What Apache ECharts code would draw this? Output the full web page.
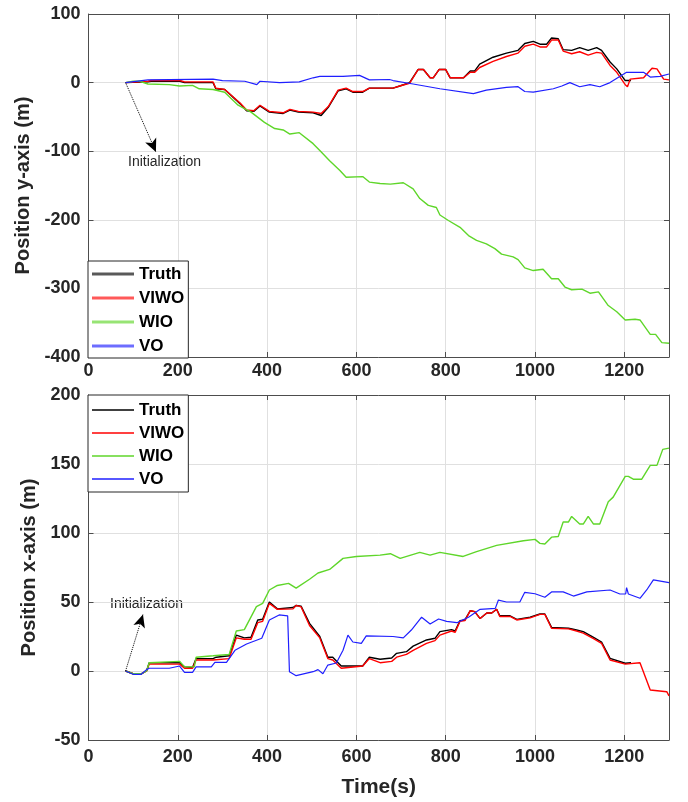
<!DOCTYPE html>
<html>
<head>
<meta charset="utf-8">
<script src="https://cdn.jsdelivr.net/npm/echarts@6.0.0/dist/echarts.min.js"></script>
<style>
	html, body { margin: 0; padding: 0; background: #fff; }
	#main { width: 688px; height: 802px; }
</style>
</head>
<body>
<div id="main"></div>
<script>
// names of the four estimates
let names = ['Truth', 'VIWO', 'WIO', 'VO'];
let colors = ['#000000', '#ff0000', '#5fd62a', '#1f1fff'];

// x tick labels (time, s)
let timeTicks = [0, 200, 400, 600, 800, 1000, 1200];

// position y-axis (m), [time, value]
let truthY = [[83,0],[133,1],[140,2],[205,2],[215,0],[279,0],[285,-9],[305,-10],[340,-31],[354,-41],[370,-42],[384,-34],[405,-43],[436,-45],[451,-40],[470,-43],[503,-44],[521,-48],[537,-36],[559,-12],[577,-9],[592,-14],[614,-14],[629,-8],[682,-8],[697,-5],[719,0],[738,19],[750,19],[765,7],[772,7],[785,19],[800,19],[810,7],[840,7],[855,17],[865,17],[876,27],[906,37],[936,43],[962,47],[977,57],[996,60],[1011,56],[1026,56],[1037,65],[1052,64],[1063,48],[1082,47],[1100,51],[1119,47],[1138,51],[1149,47],[1168,30],[1183,20],[1202,3],[1215,3]];
let viwoY = [[83,0],[133,2],[140,3],[205,3],[215,1],[279,1],[285,-8],[305,-10],[340,-30],[354,-40],[370,-41],[384,-33],[405,-42],[436,-44],[451,-39],[470,-42],[503,-43],[521,-45],[537,-35],[559,-11],[577,-8],[592,-13],[614,-13],[629,-8],[682,-8],[697,-5],[719,-1],[738,19],[750,19],[765,7],[772,7],[785,19],[800,19],[810,7],[840,7],[855,15],[865,15],[876,22],[906,31],[936,38],[962,43],[977,53],[996,56],[1011,52],[1026,52],[1037,62],[1052,62],[1063,46],[1082,42],[1100,45],[1119,40],[1138,44],[1149,43],[1168,25],[1183,15],[1202,-3],[1207,-6],[1213,5],[1243,7],[1262,21],[1273,20],[1288,5],[1300,4]];
let wioY = [[83,0],[100,2],[115,2],[133,-2],[181,-3],[204,-5],[233,-4],[248,-9],[279,-10],[305,-14],[335,-33],[364,-43],[394,-58],[417,-67],[436,-69],[451,-75],[472,-73],[503,-89],[518,-99],[540,-114],[563,-128],[577,-138],[614,-137],[629,-145],[653,-147],[676,-148],[705,-146],[727,-155],[742,-169],[761,-179],[779,-182],[787,-193],[806,-201],[832,-211],[851,-223],[869,-230],[891,-235],[910,-242],[925,-250],[951,-254],[962,-258],[977,-270],[996,-274],[1018,-272],[1037,-286],[1052,-286],[1067,-298],[1082,-302],[1105,-301],[1123,-307],[1142,-305],[1164,-325],[1183,-334],[1202,-346],[1224,-345],[1235,-346],[1258,-367],[1270,-367],[1284,-379],[1300,-380]];
let voY = [[83,0],[133,4],[279,5],[300,3],[350,2],[377,-3],[384,2],[428,0],[472,1],[503,7],[518,9],[570,9],[607,10.5],[629,4],[674,4.5],[682,3],[727,-2],[787,-9],[862,-16],[891,-11],[936,-7],[962,-6],[977,-13],[996,-14],[1041,-9],[1060,-5],[1078,0],[1100,-6],[1123,-3],[1145,-6],[1168,0],[1205,15],[1243,15],[1258,8],[1280,9],[1300,12.6]];

// position x-axis (m), [time, value]
let truthX = [[83,0],[100,-2],[118,-2],[130,0],[136,6],[204,6],[215,3],[233,2.5],[241,9],[279,9],[286,10],[315,11],[331,26],[349,24],[364,24.5],[379,37],[390,37.5],[405,50],[423,45],[458,46],[465,47.5],[476,47],[495,34.5],[518,25],[536,10],[547,10],[566,3.6],[614,3.6],[629,10],[653,8.5],[679,9.4],[690,12.8],[712,14],[727,18],[757,22.5],[776,23.7],[787,28.5],[813,30],[821,29],[832,36.5],[843,37],[855,43.7],[865,43],[877,38],[892,42],[903,42],[914,44.7],[921,40],[944,40],[959,37.4],[989,39],[1011,41.3],[1022,41.3],[1037,31.6],[1075,31],[1093,29.7],[1108,28.5],[1131,24.4],[1149,21],[1168,9.2],[1202,5.6],[1215,6]];
let viwoX = [[83,0],[100,-2],[118,-2],[130,0],[136,5],[204,5],[215,2],[233,2],[241,8],[279,8],[315,9],[331,24],[349,23],[364,23],[379,35],[390,36],[405,49],[423,44.7],[458,45],[465,47.5],[476,46.5],[495,33],[518,24],[536,9],[547,8],[566,2],[614,3.6],[629,9],[653,6],[679,7],[690,10],[712,12],[727,15],[757,20],[776,22],[787,26],[813,29],[821,28],[832,36],[843,36.5],[855,43.7],[865,43],[877,38],[892,42],[903,42],[914,44.7],[921,39.5],[944,39.5],[959,37],[989,38.5],[1011,41],[1022,41],[1037,31],[1075,30.5],[1093,29],[1108,27.5],[1131,23.5],[1149,20],[1168,8],[1202,5],[1235,6],[1258,-13.8],[1295,-15],[1300,-18]];
let wioX = [[83,0],[100,-2],[118,-2],[130,0],[136,6],[204,7],[215,3],[237,3],[241,10],[279,11],[315,12],[331,29],[349,30],[376,46.6],[390,49],[405,58.7],[423,62],[448,63.5],[465,60],[495,66.5],[514,71],[540,73.6],[570,81.6],[600,83],[653,84],[676,85],[698,81.6],[742,86],[765,84],[787,86],[839,83],[869,86.5],[914,91],[974,94.4],[1000,95.4],[1011,92.5],[1022,92],[1037,97],[1052,97.5],[1063,108],[1075,108],[1082,112],[1100,106.5],[1108,106.5],[1119,112],[1131,106.5],[1145,106.5],[1164,122.7],[1175,126],[1202,141],[1209,141],[1220,139],[1239,139],[1258,149],[1273,149],[1286,160.6],[1300,161.5]];
let voX = [[83,0],[100,-2.4],[118,-2.4],[130,1],[136,2],[181,2],[204,3.6],[215,-1],[233,-1],[241,3],[275,3],[283,6.3],[309,6.3],[328,15],[354,19.6],[388,23.7],[405,37],[427,40.6],[446,40],[450,-0.5],[465,-3.4],[503,-0.5],[514,1],[525,-2],[536,4.3],[555,5.8],[570,15],[581,26],[592,21],[611,20],[622,25.4],[682,25],[705,24],[723,29.7],[746,39],[765,34],[784,37.7],[802,36],[825,35],[851,39],[877,44.7],[911,45.4],[918,51.4],[936,50],[966,50],[977,57],[1000,56],[1022,53.4],[1037,57.3],[1063,57.3],[1086,54.3],[1116,57.3],[1168,58.7],[1190,55.8],[1203,55.8],[1205,60.4],[1207,60.4],[1209,55.8],[1235,52.7],[1250,58.7],[1265,66],[1300,64]];

// "Initialization" arrows: start and tip in data coordinates
let initArrowY = [[83, 0], [151, -101]];
let initArrowX = [[83, 0], [122, 41]];

let font = "'Liberation Sans', Arial, sans-serif";
let axisColor = '#4d4d4d';
let textColor = '#262626';

let myChart = echarts.init(document.getElementById('main'));

// one bottom/left axis with labels, one top/right axis with only ticks (MATLAB box)
function xAxes(gridIndex, withName, labelMargin) {
	let base = {
		type: 'value', gridIndex: gridIndex, min: 0, max: 1300, interval: 200,
		axisLine: { show: true, onZero: false, lineStyle: { color: axisColor, width: 1 } },
		axisTick: { show: true, inside: true, length: 5, lineStyle: { color: axisColor } },
	};
	return [
		Object.assign({}, base, {
			position: 'bottom',
			splitLine: { show: true, lineStyle: { color: '#e0e0e0', width: 1 } },
			axisLabel: {
				show: true, margin: labelMargin, color: textColor, fontSize: 18, fontWeight: 'bold', fontFamily: font,
				formatter: function(v) { return timeTicks.indexOf(v) >= 0 ? String(v) : ''; }
			},
			name: withName ? 'Time(s)' : '',
			nameLocation: 'middle',
			nameGap: 37,
			nameTextStyle: { color: textColor, fontSize: 21, fontWeight: 'bold', fontFamily: font }
		}),
		Object.assign({}, base, {
			position: 'top',
			splitLine: { show: false },
			axisLabel: { show: false }
		})
	];
}

function yAxes(gridIndex, min, max, interval, title) {
	let base = {
		type: 'value', gridIndex: gridIndex, min: min, max: max, interval: interval,
		axisLine: { show: true, onZero: false, lineStyle: { color: axisColor, width: 1 } },
		axisTick: { show: true, inside: true, length: 5, lineStyle: { color: axisColor } },
	};
	return [
		Object.assign({}, base, {
			position: 'left',
			splitLine: { show: true, lineStyle: { color: '#e0e0e0', width: 1 } },
			axisLabel: { show: true, margin: 8, color: textColor, fontSize: 18, fontWeight: 'bold', fontFamily: font },
			name: title,
			nameLocation: 'middle',
			nameGap: 48,
			nameTextStyle: { color: textColor, fontSize: 20, fontWeight: 'bold', fontFamily: font }
		}),
		Object.assign({}, base, {
			position: 'right',
			splitLine: { show: false },
			axisLabel: { show: false }
		})
	];
}

function lineSeries(i, data, axisIndex, arrow) {
	let s = {
		name: names[i],
		type: 'line',
		xAxisIndex: axisIndex * 2,
		yAxisIndex: axisIndex * 2,
		data: data,
		symbol: 'none',
		showSymbol: false,
		lineStyle: { color: colors[i], width: i === 3 ? 1.2 : 1.4 },
		itemStyle: { color: colors[i] },
		z: 2 + i
	};
	if (arrow) {
		s.markLine = {
			silent: true,
			symbol: ['none', 'arrow'],
			symbolSize: [9, 13],
			label: { show: false },
			lineStyle: { color: '#000', type: 'dotted', width: 1 },
			data: [[{ coord: arrow[0] }, { coord: arrow[1] }]]
		};
	}
	return s;
}

// legend drawn as plain line samples, like MATLAB
function legendBox(top, gap, pad, iconHeight, iconOpacity) {
	return {
		orient: 'vertical',
		left: 88,
		top: top,
		icon: 'rect',
		itemWidth: 42,
		itemHeight: iconHeight,
		itemGap: gap,
		padding: pad,
		backgroundColor: '#fff',
		borderColor: '#262626',
		borderWidth: 1,
		borderRadius: 0,
		selectedMode: false,
		itemStyle: { opacity: iconOpacity },
		textStyle: { color: '#000', fontSize: 17, lineHeight: 18, fontWeight: 'bold', fontFamily: font },
		data: names
	};
}

let option = {
	animation: false,
	backgroundColor: '#fff',
	grid: [
		{ left: 88.5, right: 19, top: 14, height: 343 },
		{ left: 88.5, right: 19, top: 395, height: 345 }
	],
	xAxis: xAxes(0, false, 5).concat(xAxes(1, true, 8)),
	yAxis: yAxes(0, -400, 100, 100, 'Position y-axis (m)').concat(yAxes(1, -50, 200, 50, 'Position x-axis (m)')),
	legend: [
		legendBox(261, 6, [4, 4, 3, 4], 3, 0.65),
		legendBox(395, 5, [6, 4, 4, 4], 1.6, 1)
	],
	graphic: [
		{
			type: 'text', left: 128, top: 155,
			style: { text: 'Initialization', fill: textColor, fontSize: 14, fontFamily: font }
		},
		{
			type: 'text', left: 110, top: 597,
			style: { text: 'Initialization', fill: textColor, fontSize: 14, fontFamily: font }
		}
	],
	series: [
		lineSeries(0, truthY, 0, initArrowY),
		lineSeries(1, viwoY, 0),
		lineSeries(2, wioY, 0),
		lineSeries(3, voY, 0),
		lineSeries(0, truthX, 1, initArrowX),
		lineSeries(1, viwoX, 1),
		lineSeries(2, wioX, 1),
		lineSeries(3, voX, 1)
	]
};

myChart.setOption(option);
</script>
</body>
</html>
